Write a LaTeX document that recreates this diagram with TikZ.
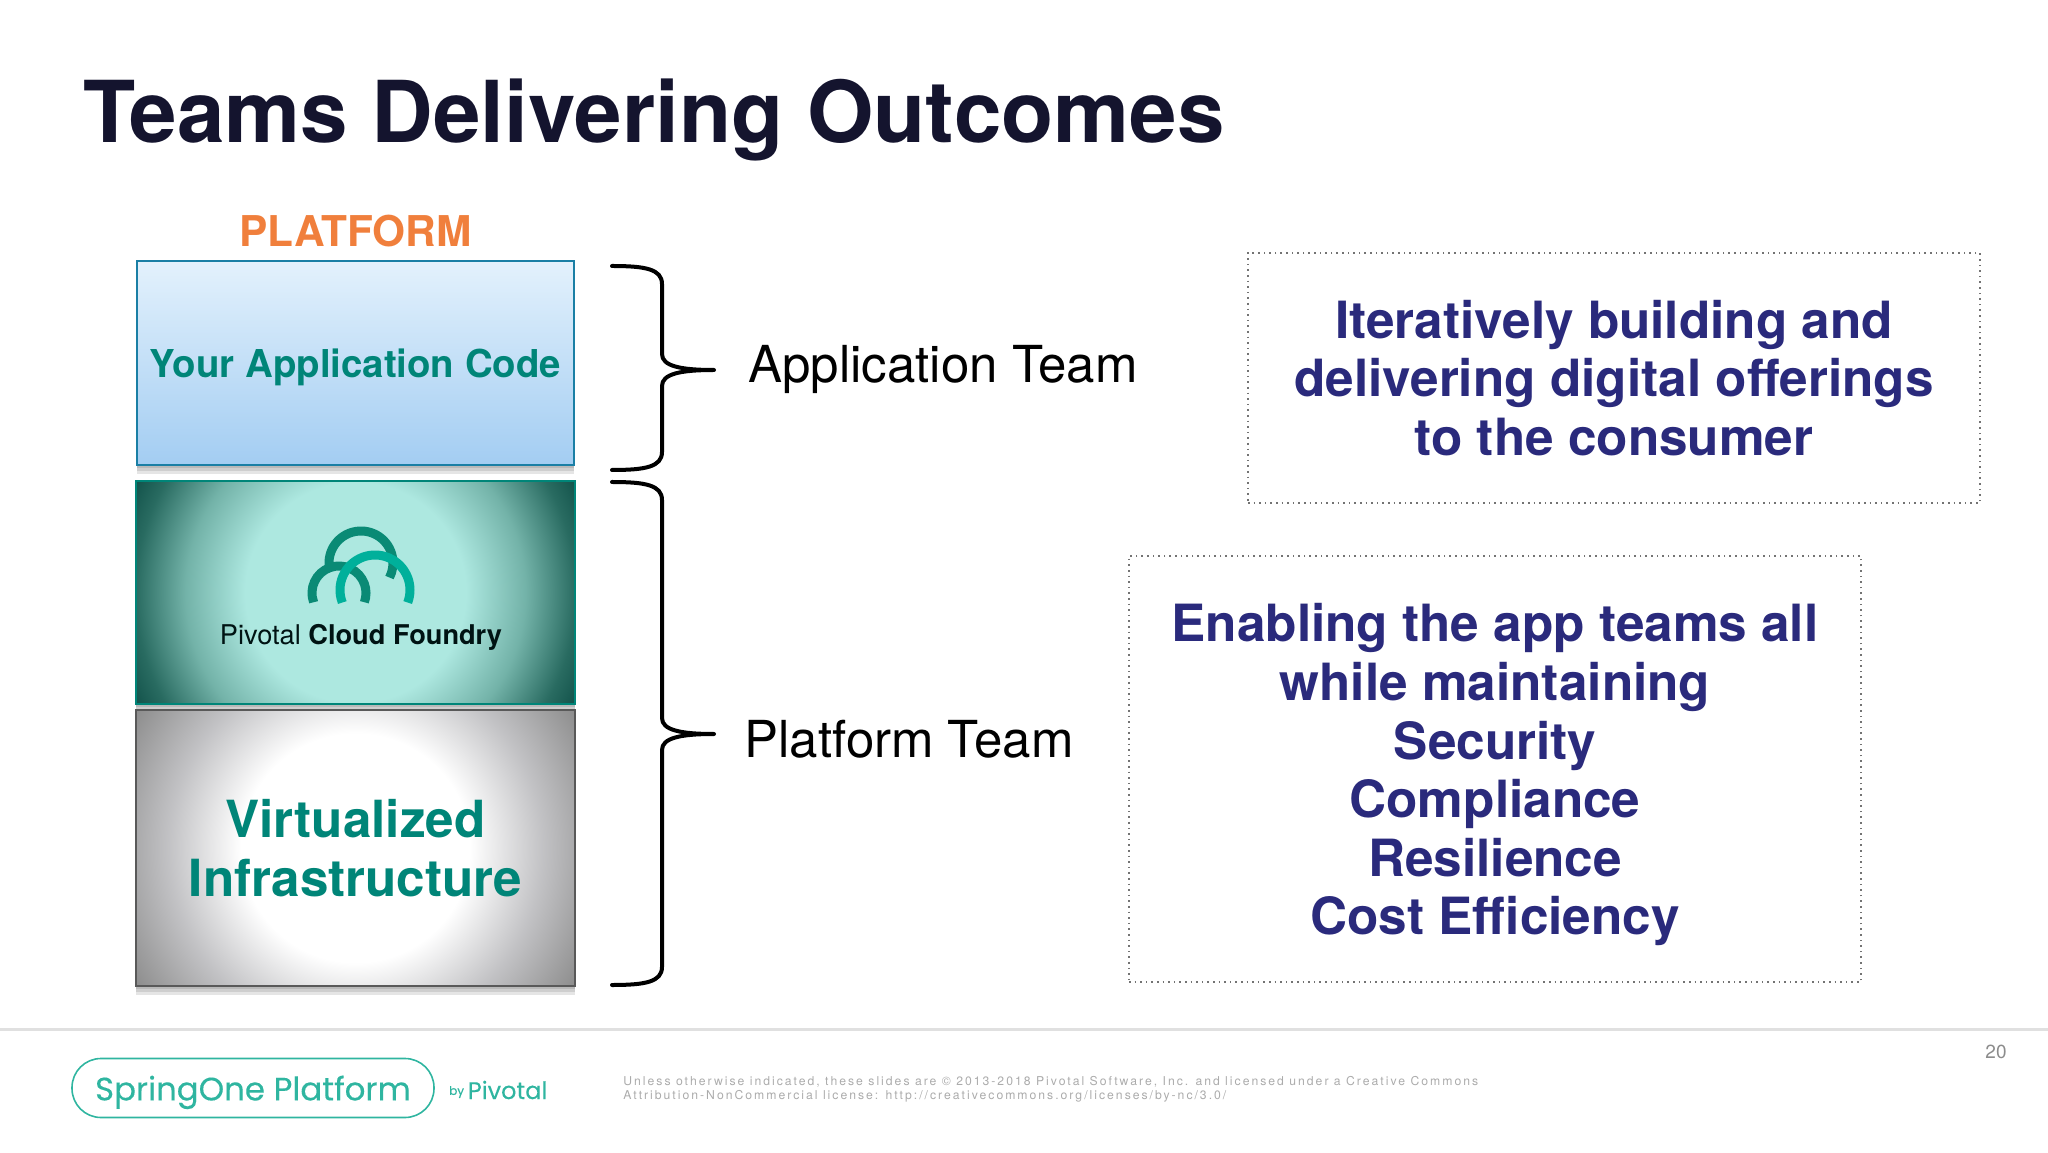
\documentclass[tikz,border=0pt]{standalone}
\usepackage{fontspec}
\usepackage{tikz}
\usetikzlibrary{positioning,shadows,calc}
\setmainfont{TeX Gyre Heros}
\newfontfamily\brandfont[FakeBold=0.25]{Poppins}
\newfontfamily\legalfont[LetterSpace=16.4]{TeX Gyre Heros}
\definecolor{titlenavy}{HTML}{14142E}
\definecolor{orangehead}{HTML}{F07F3C}
\definecolor{tealtext}{HTML}{008578}
\definecolor{indigotext}{HTML}{2A2A7C}
\definecolor{brandteal}{HTML}{2FB5A0}
\definecolor{logodark}{HTML}{0A8A75}
\definecolor{logolight}{HTML}{00B09B}
\definecolor{apptop}{HTML}{E3F1FC}
\definecolor{appbottom}{HTML}{A3CDF2}
\definecolor{appline}{HTML}{1A7FA5}
\pgfdeclareradialshading{vigteal}{\pgfpoint{0bp}{0bp}}{rgb(0bp)=(.68,.91,.88); rgb(11bp)=(.68,.91,.88); rgb(17bp)=(.45,.70,.66); rgb(22bp)=(.16,.42,.38); rgb(25bp)=(.06,.31,.28); rgb(50bp)=(.06,.31,.28)}
\pgfdeclareradialshading{viggray}{\pgfpoint{0bp}{0bp}}{rgb(0bp)=(1,1,1); rgb(11bp)=(1,1,1); rgb(18bp)=(.76,.76,.77); rgb(25bp)=(.55,.55,.55); rgb(50bp)=(.55,.55,.55)}
\tikzset{
  softshadow/.style={general shadow={shadow xshift=0pt, shadow yshift=#1, opacity=.1, fill=black}},
  layerbox/.style={inner sep=0pt, outer sep=0pt, line width=1.2pt, softshadow=-1.5pt, softshadow=-3pt, softshadow=-4.5pt},
  layertext/.style={text=tealtext, align=center, font=\bfseries\fontsize{25.6}{29.3}\selectfont},
  claimbox/.style={draw=black!55, dotted, line width=.8pt, inner sep=0pt, minimum width=366pt, align=center, text=indigotext, font=\bfseries\fontsize{25.65}{29.3}\selectfont},
  teamlabel/.style={inner sep=0pt, font=\fontsize{25.5}{30}\selectfont},
  bracket/.style={line width=2pt, line cap=round, line join=round},
  arcdark/.style={draw=logodark, line width=4.5pt},
  arclight/.style={draw=logolight, line width=4.5pt}
}
\begin{document}
\begin{tikzpicture}[x=0.5pt,y=0.5pt]
\useasboundingbox (0,0) rectangle (2048,1152);

\node[anchor=base west, inner sep=0pt, text=titlenavy, font=\bfseries\fontsize{42.7}{50}\selectfont] (title) at (83,1009) {Teams Delivering Outcomes};

% platform stack
\node[layerbox, draw=appline, minimum width=218.5pt, minimum height=102pt, top color=apptop, bottom color=appbottom, layertext, text depth=0pt, font=\bfseries\fontsize{19.2}{23}\selectfont] (app_code) at (355.5,789) {Your Application Code};
\node[layerbox, draw=tealtext, minimum width=219.5pt, minimum height=111.5pt, below = 8pt of app_code, path picture={\shade[shading=vigteal] (path picture bounding box.center) circle (125pt);}] (pcf) {};
\node[layerbox, draw=black!65, minimum width=219.5pt, minimum height=138pt, below = 3pt of pcf, path picture={\shade[shading=viggray] (path picture bounding box.center) circle (130pt);}, layertext] (infra) {Virtualized\\Infrastructure};
\node[above = 7pt of app_code, inner sep=0pt, text=orangehead, font=\bfseries\fontsize{21.2}{25}\selectfont] (platform) {PLATFORM};

% logo
\coordinate (arc_top) at (361,589);
\coordinate (arc_left) at (339,559);
\coordinate (arc_right) at (375,562);
\draw[arcdark] ([shift=(190:16pt)]arc_top) arc[start angle=190, end angle=-27, radius=16pt];
\draw[arcdark] ([shift=(200:13.5pt)]arc_left) arc[start angle=200, end angle=-20, radius=13.5pt];
\draw[arclight] ([shift=(201:17.5pt)]arc_right) arc[start angle=201, end angle=-21, radius=17.5pt];
\node[inner sep=0pt, text=black!85!teal, font=\fontsize{13.6}{15}\selectfont] (pcf_name) at (361,515) {Pivotal \textbf{Cloud Foundry}};

% braces
\foreach \name/\top/\tip/\bot in {app/886/782/682, plat/670/418/167} {
  \coordinate (tip_\name) at (714,\tip);
  \draw[bracket] (612,\top) .. controls (645,\top) and (662,\top-3) .. (662,\top-18)
    -- (662,\tip+16) .. controls (662,\tip+4) and (680,\tip) .. (tip_\name)
    (tip_\name) .. controls (680,\tip) and (662,\tip-4) .. (662,\tip-16)
    -- (662,\bot+18) .. controls (662,\bot+3) and (645,\bot) .. (612,\bot);
}
\node[teamlabel, right = 17pt of tip_app, yshift=.4pt] (lab_app) {Application Team};
\node[teamlabel, right = 15pt of tip_plat, yshift=-2.5pt] (lab_plat) {Platform Team};

% claims
\node[claimbox, minimum height=125pt] (claim_app) at (1614,774) {Iteratively building and\\delivering digital offerings\\to the consumer};
\node[claimbox, minimum height=213pt] (claim_plat) at (1495,383) {\rule{0pt}{25pt}Enabling the app teams all\\while maintaining\\Security\\Compliance\\Resilience\\Cost Efficiency};

% footer
\coordinate (rule_l) at (0,123);
\coordinate (rule_r) at (2048,123);
\draw[black!12, line width=1.5pt] (rule_l) -- (rule_r);
\node[draw=brandteal, line width=.8pt, rounded corners=14.5pt, minimum width=181pt, minimum height=29.5pt, inner sep=0pt, text=brandteal, text depth=0pt, font=\brandfont\fontsize{16.2}{20}\selectfont] (brand) at (253,64) {SpringOne Platform};
\node[right = 7pt of brand, yshift=-2pt, inner sep=0pt, text=brandteal, font=\brandfont\fontsize{6}{8}\selectfont] (brand_by) {by};
\node[right = 1.5pt of brand_by, yshift=1pt, inner sep=0pt, text=brandteal, font=\brandfont\fontsize{12}{14}\selectfont] (brand_pivotal) {Pivotal};
\node[anchor=west, inner sep=0pt, align=left, text=black!33, font=\legalfont\fontsize{6.1}{7.2}\selectfont] (legal) at (623,63) {Unless otherwise indicated, these slides are © 2013-2018 Pivotal Software, Inc. and licensed under a Creative Commons\\Attribution-NonCommercial license: http://creativecommons.org/licenses/by-nc/3.0/};
\node[inner sep=0pt, text=black!45, font=\fontsize{9.5}{11}\selectfont] (page_no) at (1996,100) {20};
\end{tikzpicture}
\end{document}
